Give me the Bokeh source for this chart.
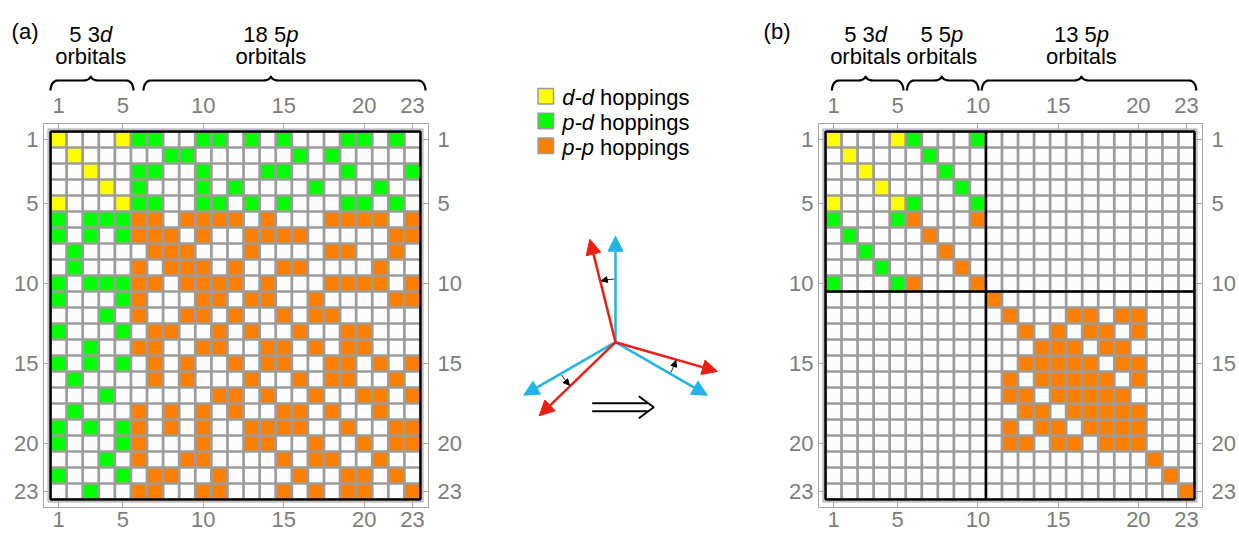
import numpy as np
from bokeh.plotting import figure
from bokeh.models import Range1d, LinearAxis, FixedTicker, ColumnDataSource, Arrow, NormalHead
from bokeh.layouts import row, column
from bokeh.core.properties import value
from bokeh.embed import file_html
from bokeh.resources import INLINE

# ---------------- data ----------------
N = 23
TICKS = [1, 5, 10, 15, 20, 23]

# hopping matrices: Y = d-d, G = p-d, O = p-p, . = none
HOP_A = [
    "Y...YGG..GG.G.G...GG.G.",
    ".Y.....GG......G.G.....",
    "..Y..GG..G...GG...G...G",
    "...Y.G...G.G....G...G..",
    "Y...YGG..GG.G.G...GG.G.",
    "G.GGGOO.OOOO.O...OOOO.O",
    "G.G.GOOO.O..OOOO.....OO",
    ".G....OOO...O....OO..O.",
    ".G...O.OOO.O..OO....O..",
    "G.GGGOO.OOOO.O...OOOO.O",
    "G...GO...OO.OO..O....OO",
    "...G.O..OO.O..O.OO.....",
    "G...G.OO..O.O..O..OO...",
    "..G..OO..OO..OO.O.OO...",
    "G.G.G.O.O..O.OO..OO.O.O",
    ".G....O.O...O..O.OO..O.",
    "...G......OO.O..O..OO.O",
    ".G...O.O.O.O..OO.O..O..",
    "G.G.GO.O.O..OOOO..O..OO",
    "G...GO...O..OO..O..O.OO",
    "...G.O..OO....O.OO..O..",
    "G...G.OO..O....O..OO.O.",
    "..G..OO..OO...O.O.OO..O",
]
HOP_B = [
    "Y...YG...G.............",
    ".Y....G................",
    "..Y....G...............",
    "...Y....G..............",
    "Y...YG...G.............",
    "G...GO...O.............",
    ".G....O................",
    "..G....O...............",
    "...G....O..............",
    "G...GO...O.............",
    "..........O............",
    "...........O...OO.OO...",
    "............O.O.OO.O...",
    ".............OOO.OO....",
    "............OOOOO.OO...",
    "...........O.OOOOO.O...",
    "...........OO.OOOOO....",
    "............OO.OOOOO...",
    "...........O.OO.OOOO...",
    "...........OO.OO.OOO...",
    "....................O..",
    ".....................O.",
    "......................O",
]
BLOCK_SPLIT_B = 10

HOP_KINDS = ["Y", "G", "O"]
HOP_PAIRS = ["d-d", "p-d", "p-p"]
HOP_WORD = "hoppings"
GROUPS_A = [("5 3", "d"), ("18 5", "p")]
GROUPS_B = [("5 3", "d"), ("5 5", "p"), ("13 5", "p")]
PANEL_TAGS = ["(a)", "(b)"]

# ---------------- style / layout constants ----------------
COLORS = {"Y": "#FFFF00", "G": "#00FF00", "O": "#FF8000", ".": "#FCFCFC"}
MESH = "#9c9c9c"
FRAME = "#a8a8a8"
TICKLAB = "#7d7d7d"
BLUE = "#22B4E6"
RED = "#EC1E14"
FONT = "Liberation Sans"
FS = 22
PX = 370.0 / N          # pixels per column
HEAD_H = 91
MAT_H = 543 - HEAD_H
FRAME_W = 385
TXT_DY = -7.0           # baseline correction for svg text
TAG_Y = 31

# brace spans (x0, x1, tip) in column units
BRACES_A = [(0.5, 5.66, 3.0), (6.28, 23.81, 14.2)]
BRACES_B = [(0.90, 5.36, 3.0), (5.58, 10.04, 7.75), (10.24, 23.61, 16.45)]

AW = {"0": 556, "1": 556, "2": 556, "3": 556, "4": 556, "5": 556, "6": 556, "7": 556,
      "8": 556, "9": 556, " ": 278, "d": 556, "p": 556, "-": 333}


def tw(s):
    return sum(AW.get(c, 556) for c in s) * FS / 1000.0


X0 = 0.5 - 7.0 / PX
XR = (X0, X0 + FRAME_W / PX)


def matrix_fig(rows, width, left, split=None):
    right = width - left - FRAME_W
    p = figure(width=width, height=MAT_H,
               x_range=Range1d(*XR), y_range=Range1d(24.0, 0.0),
               output_backend="svg", toolbar_location=None,
               min_border_left=left, min_border_right=right,
               min_border_top=32, min_border_bottom=36,
               x_axis_location="below", y_axis_location="left")
    p.add_layout(LinearAxis(), "above")
    p.add_layout(LinearAxis(), "right")
    p.xgrid.visible = False
    p.ygrid.visible = False
    p.outline_line_color = FRAME
    p.background_fill_color = "white"
    p.border_fill_color = "white"
    for ax in p.axis:
        ax.ticker = FixedTicker(ticks=TICKS, minor_ticks=[])
        ax.major_tick_in = 6
        ax.major_tick_out = 0
        ax.minor_tick_in = 0
        ax.minor_tick_out = 0
        ax.axis_line_color = FRAME
        ax.major_tick_line_color = FRAME
        ax.major_label_text_font = FONT
        ax.major_label_text_font_size = f"{FS}px"
        ax.major_label_text_color = TICKLAB
    p.above[0].major_label_standoff = 11
    p.below[0].major_label_standoff = 4
    p.left[0].major_label_standoff = 5
    p.right[0].major_label_standoff = 9

    xs, ys, cs = [], [], []
    for r, line in enumerate(rows):
        for c, ch in enumerate(line):
            xs.append(c + 1)
            ys.append(r + 1)
            cs.append(COLORS[ch])
    cen = (N + 1) / 2.0
    p.rect(x=[cen], y=[cen], width=N + 0.3, height=N + 0.3, fill_color=None,
           line_color=FRAME, line_width=1.2)
    p.rect(x=[cen], y=[cen], width=N, height=N, fill_color=MESH, line_color=None)
    p.rect(x="x", y="y", width=0.83, height=0.83, fill_color="c", line_color=None,
           source=ColumnDataSource(dict(x=xs, y=ys, c=cs)))
    if split is not None:
        s = split + 0.5
        p.segment(x0=[s, 0.5], y0=[0.5, s], x1=[s, N + 0.5], y1=[N + 0.5, s],
                  line_color="black", line_width=2.5)
    p.rect(x=[cen], y=[cen], width=N, height=N, fill_color=None,
           line_color="black", line_width=2.5)
    return p


def brace_pts(x0, x1, xt, ybar=80.0, dend=10.0, dtip=4.5, r=7.0, r2=8.0):
    rx = r / PX
    rx2 = r2 / PX
    t = np.linspace(0, np.pi / 2, 12)
    lx = x0 + rx * (1 - np.cos(t))
    ly = ybar + dend * (1 - np.sin(t))
    tx = xt - rx2 + rx2 * np.sin(t)
    ty = ybar - dtip * (1 - np.cos(t))
    ux = xt + rx2 - rx2 * np.sin(t[::-1])
    uy = ybar - dtip * (1 - np.cos(t[::-1]))
    ex = x1 - rx * (1 - np.cos(t[::-1]))
    ey = ybar + dend * (1 - np.sin(t[::-1]))
    return (list(np.concatenate([lx, tx, ux, ex])),
            list(np.concatenate([ly, ty, uy, ey])))


def header_fig(width, left, tag, tag_standoff, groups, braces):
    right = width - left - FRAME_W
    p = figure(width=width, height=HEAD_H, x_range=Range1d(*XR),
               y_range=Range1d(HEAD_H, 0), output_backend="svg", toolbar_location=None,
               x_axis_location=None, y_axis_location="left",
               min_border_left=left, min_border_right=right,
               min_border_top=0, min_border_bottom=0)
    p.xgrid.visible = False
    p.ygrid.visible = False
    p.outline_line_color = None
    # panel tag drawn as the single label of an invisible left axis
    ax = p.left[0]
    ax.ticker = FixedTicker(ticks=[TAG_Y], minor_ticks=[])
    ax.major_label_overrides = {TAG_Y: tag}
    ax.axis_line_color = None
    ax.major_tick_line_color = None
    ax.minor_tick_line_color = None
    ax.major_tick_in = 0
    ax.major_tick_out = 0
    ax.major_label_standoff = tag_standoff
    ax.major_label_text_font = FONT
    ax.major_label_text_font_size = f"{FS}px"
    ax.major_label_text_color = "black"

    txt = dict(text_font=value(FONT), text_font_size=f"{FS}px", text_color="black",
               text_baseline="alphabetic")
    for (pre, it), (b0, b1, bt) in zip(groups, braces):
        total = tw(pre) + tw(it)
        lft = bt - total / 2.0 / PX
        p.text(x=[lft], y=[40.7 + TXT_DY], text=[pre], text_align="left", **txt)
        p.text(x=[lft + tw(pre) / PX], y=[40.7 + TXT_DY], text=[it], text_align="left",
               text_font_style="italic", **txt)
        p.text(x=[bt], y=[63.3 + TXT_DY], text=["orbitals"], text_align="center", **txt)
        bx, by = brace_pts(b0, b1, bt)
        p.line(bx, by, line_color="black", line_width=2.2)
    return p


# ---------------- panels ----------------
WA, WM, WB = 480, 280, 479
LEFT_A, LEFT_B = 43, 57
pA = matrix_fig(HOP_A, WA, LEFT_A)
pB = matrix_fig(HOP_B, WB, LEFT_B, split=BLOCK_SPLIT_B)
hA = header_fig(WA, LEFT_A, PANEL_TAGS[0], 5, GROUPS_A, BRACES_A)
hB = header_fig(WB, LEFT_B, PANEL_TAGS[1], 28, GROUPS_B, BRACES_B)

# ---------------- middle: legend + rotation sketch ----------------
pm = figure(width=WM, height=543, x_range=Range1d(WA, WA + WM), y_range=Range1d(543, 0),
            output_backend="svg", toolbar_location=None,
            x_axis_location=None, y_axis_location=None, min_border=0)
pm.xgrid.visible = False
pm.ygrid.visible = False
pm.outline_line_color = None

LEG_X, LEG_Y0, LEG_DY, LEG_SQ = 545.3, 95.8, 24.7, 15.5
ly = [LEG_Y0 + i * LEG_DY for i in range(len(HOP_KINDS))]
pm.rect(x=[LEG_X] * 3, y=ly, width=LEG_SQ, height=LEG_SQ,
        fill_color=[COLORS[k] for k in HOP_KINDS], line_color="#9a9a9a", line_width=1.5)
txt = dict(text_font=value(FONT), text_font_size=f"{FS}px", text_color="black",
           text_baseline="alphabetic", text_align="left")
tx0 = 561.7
pm.text(x=[tx0] * 3, y=[v + 7.5 + TXT_DY + 1 for v in ly], text=HOP_PAIRS,
        text_font_style="italic", **txt)
pm.text(x=[tx0 + tw("d-d ")] * 3, y=[v + 7.5 + TXT_DY + 1 for v in ly],
        text=[HOP_WORD] * 3, **txt)

CX, CY, L, ROT, RARC = 615.0, 341.7, 106.0, 14.0, 63.0
BASE_ANG = [90.0, 210.0, 330.0]
for angs, col in [(BASE_ANG, BLUE), ([a + ROT for a in BASE_ANG], RED)]:
    src = ColumnDataSource(dict(
        x0=[CX] * 3, y0=[CY] * 3,
        x1=[CX + L * np.cos(np.radians(a)) for a in angs],
        y1=[CY - L * np.sin(np.radians(a)) for a in angs]))
    pm.add_layout(Arrow(end=NormalHead(size=15, fill_color=col, line_color=col),
                        x_start="x0", y_start="y0", x_end="x1", y_end="y1",
                        line_color=col, line_width=2.5, source=src))
for a in BASE_ANG:
    t = np.radians(np.linspace(a + 1, a + ROT - 1, 16))
    ax_ = CX + RARC * np.cos(t)
    ay_ = CY - RARC * np.sin(t)
    pm.line(list(ax_), list(ay_), line_color="black", line_width=1)
    pm.add_layout(Arrow(end=NormalHead(size=6, fill_color="black", line_color="black"),
                        x_start=ax_[-3], y_start=ay_[-3], x_end=ax_[-1], y_end=ay_[-1],
                        line_color="black", line_width=1))

# implication double arrow
DA_X0, DA_X1, DA_Y, DA_GAP = 591.7, 653.3, 406.7, 4.0
pm.multi_line(xs=[[DA_X0, DA_X1 - 6], [DA_X0, DA_X1 - 6], [DA_X1 - 15, DA_X1, DA_X1 - 15]],
              ys=[[DA_Y - DA_GAP, DA_Y - DA_GAP], [DA_Y + DA_GAP, DA_Y + DA_GAP],
                  [DA_Y - 11, DA_Y, DA_Y + 11]],
              line_color="black", line_width=2)

layout = row(column(hA, pA, spacing=0), pm, column(hB, pB, spacing=0), spacing=0)
open("out.html", "w").write(file_html(layout, INLINE))
